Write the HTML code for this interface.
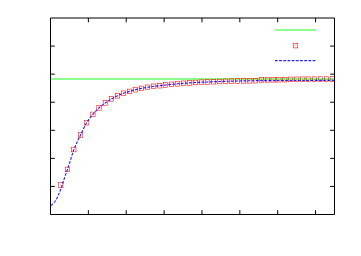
<!DOCTYPE html>
<html><head><meta charset="utf-8"><title>plot</title>
<style>html,body{margin:0;padding:0;background:#fff;font-family:"Liberation Sans",sans-serif;}svg{display:block}</style></head><body>
<svg width="361" height="256" viewBox="0 0 361 256">
<rect x="0" y="0" width="361" height="256" fill="#ffffff"/>
<g stroke="#00ff00" stroke-width="1.15" fill="none" stroke-opacity="0.9">
<line x1="51" y1="79.0" x2="334" y2="79.0"/>
<line x1="274.9" y1="30.0" x2="316.2" y2="30.0"/>
</g>
<g stroke="#ff0000" stroke-width="0.56" fill="none">
<rect x="58.62" y="182.68" width="4.35" height="4.65"/><circle cx="60.80" cy="185.00" r="0.1"/>
<rect x="65.33" y="167.08" width="4.35" height="4.65"/><circle cx="67.50" cy="169.40" r="0.1"/>
<rect x="71.67" y="147.18" width="4.35" height="4.65"/><circle cx="73.85" cy="149.50" r="0.1"/>
<rect x="78.38" y="132.68" width="4.35" height="4.65"/><circle cx="80.55" cy="135.00" r="0.1"/>
<rect x="84.53" y="120.38" width="4.35" height="4.65"/><circle cx="86.70" cy="122.70" r="0.1"/>
<rect x="90.73" y="112.08" width="4.35" height="4.65"/><circle cx="92.90" cy="114.40" r="0.1"/>
<rect x="96.83" y="105.47" width="4.35" height="4.65"/><circle cx="99.00" cy="107.80" r="0.1"/>
<rect x="103.17" y="100.58" width="4.35" height="4.65"/><circle cx="105.35" cy="102.90" r="0.1"/>
<rect x="109.33" y="96.58" width="4.35" height="4.65"/><circle cx="111.50" cy="98.90" r="0.1"/>
<rect x="115.42" y="93.47" width="4.35" height="4.65"/><circle cx="117.60" cy="95.80" r="0.1"/>
<rect x="121.42" y="90.97" width="4.35" height="4.65"/><circle cx="123.60" cy="93.30" r="0.1"/>
<rect x="127.33" y="89.08" width="4.35" height="4.65"/><circle cx="129.50" cy="91.40" r="0.1"/>
<rect x="133.22" y="87.38" width="4.35" height="4.65"/><circle cx="135.40" cy="89.70" r="0.1"/>
<rect x="139.32" y="86.08" width="4.35" height="4.65"/><circle cx="141.50" cy="88.40" r="0.1"/>
<rect x="145.32" y="84.97" width="4.35" height="4.65"/><circle cx="147.50" cy="87.30" r="0.1"/>
<rect x="151.42" y="83.97" width="4.35" height="4.65"/><circle cx="153.60" cy="86.30" r="0.1"/>
<rect x="157.52" y="83.38" width="4.35" height="4.65"/><circle cx="159.70" cy="85.70" r="0.1"/>
<rect x="163.32" y="82.67" width="4.35" height="4.65"/><circle cx="165.50" cy="85.00" r="0.1"/>
<rect x="169.38" y="82.02" width="4.35" height="4.65"/><circle cx="171.55" cy="84.35" r="0.1"/>
<rect x="175.32" y="81.47" width="4.35" height="4.65"/><circle cx="177.50" cy="83.80" r="0.1"/>
<rect x="181.42" y="80.97" width="4.35" height="4.65"/><circle cx="183.60" cy="83.30" r="0.1"/>
<rect x="187.52" y="80.58" width="4.35" height="4.65"/><circle cx="189.70" cy="82.90" r="0.1"/>
<rect x="193.42" y="80.17" width="4.35" height="4.65"/><circle cx="195.60" cy="82.50" r="0.1"/>
<rect x="199.38" y="79.88" width="4.35" height="4.65"/><circle cx="201.55" cy="82.20" r="0.1"/>
<rect x="205.32" y="79.67" width="4.35" height="4.65"/><circle cx="207.50" cy="82.00" r="0.1"/>
<rect x="211.42" y="79.42" width="4.35" height="4.65"/><circle cx="213.60" cy="81.75" r="0.1"/>
<rect x="217.52" y="79.17" width="4.35" height="4.65"/><circle cx="219.70" cy="81.50" r="0.1"/>
<rect x="223.42" y="78.97" width="4.35" height="4.65"/><circle cx="225.60" cy="81.30" r="0.1"/>
<rect x="229.38" y="78.83" width="4.35" height="4.65"/><circle cx="231.55" cy="81.15" r="0.1"/>
<rect x="235.32" y="78.67" width="4.35" height="4.65"/><circle cx="237.50" cy="81.00" r="0.1"/>
<rect x="241.42" y="78.58" width="4.35" height="4.65"/><circle cx="243.60" cy="80.90" r="0.1"/>
<rect x="247.52" y="78.47" width="4.35" height="4.65"/><circle cx="249.70" cy="80.80" r="0.1"/>
<rect x="253.42" y="78.38" width="4.35" height="4.65"/><circle cx="255.60" cy="80.70" r="0.1"/>
<rect x="259.38" y="77.58" width="4.35" height="4.65"/><circle cx="261.55" cy="79.90" r="0.1"/>
<rect x="265.32" y="77.52" width="4.35" height="4.65"/><circle cx="267.50" cy="79.85" r="0.1"/>
<rect x="270.93" y="77.47" width="4.35" height="4.65"/><circle cx="273.10" cy="79.80" r="0.1"/>
<rect x="276.68" y="77.38" width="4.35" height="4.65"/><circle cx="278.85" cy="79.70" r="0.1"/>
<rect x="282.62" y="77.27" width="4.35" height="4.65"/><circle cx="284.80" cy="79.60" r="0.1"/>
<rect x="288.52" y="77.08" width="4.35" height="4.65"/><circle cx="290.70" cy="79.40" r="0.1"/>
<rect x="294.52" y="76.97" width="4.35" height="4.65"/><circle cx="296.70" cy="79.30" r="0.1"/>
<rect x="300.52" y="76.92" width="4.35" height="4.65"/><circle cx="302.70" cy="79.25" r="0.1"/>
<rect x="306.12" y="76.88" width="4.35" height="4.65"/><circle cx="308.30" cy="79.20" r="0.1"/>
<rect x="312.22" y="76.83" width="4.35" height="4.65"/><circle cx="314.40" cy="79.15" r="0.1"/>
<rect x="318.27" y="76.77" width="4.35" height="4.65"/><circle cx="320.45" cy="79.10" r="0.1"/>
<rect x="324.32" y="76.77" width="4.35" height="4.65"/><circle cx="326.50" cy="79.10" r="0.1"/>
<rect x="330.22" y="76.72" width="4.35" height="4.65"/><circle cx="332.40" cy="79.05" r="0.1"/>
<rect x="293.38" y="43.29" width="4.35" height="4.65"/><circle cx="295.55" cy="45.62" r="0.1"/>
</g>
<g stroke="#0000ff" stroke-width="1.15" fill="none" stroke-dasharray="2.8 1.39" stroke-opacity="0.85">
<path d="M51.00 205.50 C51.33 205.18 52.25 204.38 53.00 203.60 C53.75 202.82 54.53 202.38 55.50 200.80 C56.47 199.22 57.77 196.48 58.80 194.10 C59.83 191.72 60.78 189.10 61.70 186.50 C62.62 183.90 63.33 181.35 64.30 178.50 C65.27 175.65 66.43 172.57 67.50 169.40 C68.57 166.23 69.64 162.80 70.70 159.50 C71.76 156.20 72.77 152.52 73.85 149.60 C74.93 146.68 76.08 144.43 77.20 142.00 C78.32 139.57 78.97 138.22 80.55 135.00 C82.13 131.78 84.64 126.13 86.70 122.70 C88.76 119.27 90.85 116.88 92.90 114.40 C94.95 111.92 96.92 109.72 99.00 107.80 C101.08 105.88 103.27 104.38 105.35 102.90 C107.43 101.42 109.46 100.08 111.50 98.90 C113.54 97.72 115.58 96.73 117.60 95.80 C119.62 94.87 121.62 94.03 123.60 93.30 C125.58 92.57 127.53 92.00 129.50 91.40 C131.47 90.80 133.40 90.20 135.40 89.70 C137.40 89.20 139.48 88.80 141.50 88.40 C143.52 88.00 145.48 87.65 147.50 87.30 C149.52 86.95 151.57 86.57 153.60 86.30 C155.63 86.03 157.72 85.92 159.70 85.70 C161.68 85.48 163.53 85.22 165.50 85.00 C167.47 84.78 169.55 84.55 171.55 84.35 C173.55 84.15 175.49 83.97 177.50 83.80 C179.51 83.62 181.57 83.45 183.60 83.30 C185.63 83.15 187.70 83.03 189.70 82.90 C191.70 82.77 193.62 82.62 195.60 82.50 C197.57 82.38 199.57 82.28 201.55 82.20 C203.53 82.12 205.49 82.08 207.50 82.00 C209.51 81.92 211.57 81.83 213.60 81.75 C215.63 81.67 217.70 81.58 219.70 81.50 C221.70 81.42 223.62 81.36 225.60 81.30 C227.57 81.24 228.55 81.22 231.55 81.15 C234.55 81.08 239.59 80.98 243.60 80.90 C247.61 80.83 251.20 80.75 255.60 80.70 C260.00 80.65 264.27 80.63 270.00 80.60 C275.73 80.57 279.33 80.53 290.00 80.50 C300.67 80.47 326.67 80.42 334.00 80.40"/>
<line x1="274.9" y1="60.55" x2="316.2" y2="60.55"/>
</g>
<g stroke="#000" stroke-width="1" fill="none" stroke-linecap="butt">
<path d="M50.50 18.00 H334.50 V214.50 H50.50 Z"/>
<line x1="88.37" y1="214.50" x2="88.37" y2="210.20"/>
<line x1="88.37" y1="18.00" x2="88.37" y2="22.30"/>
<line x1="126.23" y1="214.50" x2="126.23" y2="210.20"/>
<line x1="126.23" y1="18.00" x2="126.23" y2="22.30"/>
<line x1="164.10" y1="214.50" x2="164.10" y2="210.20"/>
<line x1="164.10" y1="18.00" x2="164.10" y2="22.30"/>
<line x1="201.97" y1="214.50" x2="201.97" y2="210.20"/>
<line x1="201.97" y1="18.00" x2="201.97" y2="22.30"/>
<line x1="239.83" y1="214.50" x2="239.83" y2="210.20"/>
<line x1="239.83" y1="18.00" x2="239.83" y2="22.30"/>
<line x1="277.70" y1="214.50" x2="277.70" y2="210.20"/>
<line x1="277.70" y1="18.00" x2="277.70" y2="22.30"/>
<line x1="315.57" y1="214.50" x2="315.57" y2="210.20"/>
<line x1="315.57" y1="18.00" x2="315.57" y2="22.30"/>
<line x1="50.50" y1="46.07" x2="54.80" y2="46.07"/>
<line x1="334.50" y1="46.07" x2="330.20" y2="46.07"/>
<line x1="50.50" y1="74.14" x2="54.80" y2="74.14"/>
<line x1="334.50" y1="74.14" x2="330.20" y2="74.14"/>
<line x1="50.50" y1="102.21" x2="54.80" y2="102.21"/>
<line x1="334.50" y1="102.21" x2="330.20" y2="102.21"/>
<line x1="50.50" y1="130.29" x2="54.80" y2="130.29"/>
<line x1="334.50" y1="130.29" x2="330.20" y2="130.29"/>
<line x1="50.50" y1="158.36" x2="54.80" y2="158.36"/>
<line x1="334.50" y1="158.36" x2="330.20" y2="158.36"/>
<line x1="50.50" y1="186.43" x2="54.80" y2="186.43"/>
<line x1="334.50" y1="186.43" x2="330.20" y2="186.43"/>
</g>
</svg></body></html>
